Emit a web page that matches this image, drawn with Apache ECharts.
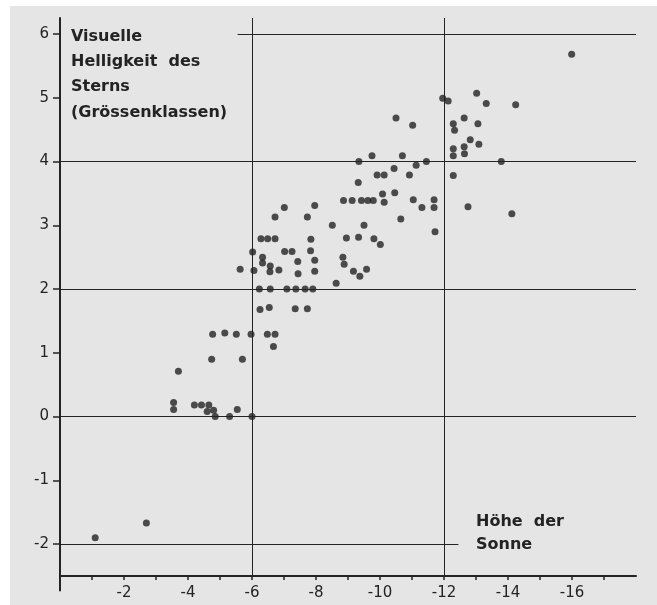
<!DOCTYPE html>
<html>
<head>
<meta charset="utf-8">
<script src="https://cdn.jsdelivr.net/npm/echarts@6/dist/echarts.min.js"></script>
<style>
html, body { margin: 0; padding: 0; background: #ffffff; }
#bg { position: absolute; left: 10px; top: 6px; width: 647px; height: 599px; background: #e5e5e5; }
#chart { position: absolute; left: 0; top: 0; width: 657px; height: 605px; }
</style>
</head>
<body>
<div id="bg"></div>
<div id="chart"></div>
<script>
// Höhe der Sonne (x) and visuelle Helligkeit (y) for each observed star
const sunAltitude = [
  -1.1, -2.7,
  -3.55, -3.55, -3.7, -4.2, -4.42, -4.65, -4.6, -4.8, -4.85, -5.3, -5.54, -6.0, -4.74, -5.7,
  -4.77, -5.15, -5.51, -5.97, -6.48, -6.72, -6.67,
  -6.25, -6.54, -7.35, -7.73,
  -6.23, -6.57, -7.09, -7.37, -7.66, -7.9, -8.63,
  -5.63, -6.06, -6.02, -6.33, -6.33, -6.57, -6.56, -6.84, -7.02, -7.25, -7.43, -7.44, -7.83, -7.96, -7.96,
  -6.28, -6.49, -6.72, -7.84,
  -6.72, -7.01, -7.73, -7.96, -8.51,
  -8.86, -9.13, -9.42, -9.62, -9.79, -9.32, -9.34, -9.75, -10.7, -11.13, -11.45, -10.44,
  -9.91, -10.13, -10.92, -10.08, -10.46, -10.13, -11.04, -11.31, -11.69, -11.69, -10.65, -11.72,
  -9.5, -8.95, -9.33, -9.81, -10.01, -8.84, -8.88, -9.17, -9.37, -9.58,
  -15.99, -13.02, -11.96, -12.13, -13.32, -14.24, -10.5, -11.02, -12.29, -12.63, -13.06,
  -12.33, -12.82, -12.63, -13.09, -12.29, -12.29, -12.64, -13.79, -12.29, -12.75, -14.12
];
const magnitude = [
  -1.9, -1.67,
  0.22, 0.11, 0.71, 0.18, 0.18, 0.18, 0.08, 0.1, 0.0, 0.0, 0.11, 0.0, 0.9, 0.9,
  1.29, 1.31, 1.29, 1.29, 1.29, 1.29, 1.1,
  1.68, 1.71, 1.69, 1.69,
  2.0, 2.0, 2.0, 2.0, 2.0, 2.0, 2.09,
  2.31, 2.29, 2.58, 2.5, 2.41, 2.36, 2.27, 2.3, 2.59, 2.59, 2.43, 2.24, 2.6, 2.45, 2.28,
  2.79, 2.79, 2.79, 2.78,
  3.13, 3.28, 3.13, 3.31, 3.0,
  3.39, 3.39, 3.39, 3.39, 3.39, 3.67, 4.0, 4.09, 4.09, 3.94, 4.0, 3.89,
  3.79, 3.79, 3.79, 3.49, 3.51, 3.36, 3.4, 3.28, 3.4, 3.28, 3.1, 2.9,
  3.0, 2.8, 2.81, 2.79, 2.7, 2.5, 2.39, 2.28, 2.2, 2.31,
  5.68, 5.07, 4.99, 4.95, 4.91, 4.89, 4.68, 4.57, 4.59, 4.68, 4.59,
  4.49, 4.34, 4.23, 4.27, 4.2, 4.09, 4.12, 4.0, 3.78, 3.29, 3.18
];

// axis ranges and ticks
const xMin = -18, xMax = 0, xAxisLeftEnd = 0.48;
const yMin = -2.5, yMax = 6.25, yAxisBottomEnd = -2.74;
const xTickValues = [-1, -2, -3, -4, -5, -6, -7, -8, -9, -10, -11, -12, -13, -14, -15, -16, -17];
const xTickLabels = [-2, -4, -6, -8, -10, -12, -14, -16];
const yTickLabels = [-2, -1, 0, 1, 2, 3, 4, 5, 6];

// reference lines: horizontal [y, xFrom, xTo], vertical [x, yFrom, yTo]
const hLines = [[-2, 0, -12.45], [0, 0, -18], [2, 0, -18], [4, 0, -18], [6, -5.55, -18]];
const vLines = [[-6, -2.5, 6.25], [-12, -2.5, 6.25]];

const ink = '#232323';
const points = sunAltitude.map((x, i) => [x, magnitude[i]]);
const lineData = [];
hLines.forEach(h => lineData.push([{ coord: [h[1], h[0]] }, { coord: [h[2], h[0]] }]));
vLines.forEach(v => lineData.push([{ coord: [v[0], v[1]] }, { coord: [v[0], v[2]] }]));

const chart = echarts.init(document.getElementById('chart'), null, { renderer: 'canvas' });
chart.setOption({
  backgroundColor: 'transparent',
  animation: false,
  title: [
    {
      text: 'Visuelle\nHelligkeit  des\nSterns\n(Grössenklassen)',
      left: 71, top: 24, padding: 0,
      textStyle: { fontFamily: 'DejaVu Sans', fontWeight: 'bold', fontSize: 16, lineHeight: 25.3, color: ink }
    },
    {
      text: 'Höhe  der\nSonne',
      left: 476, top: 510, padding: 0,
      textStyle: { fontFamily: 'DejaVu Sans', fontWeight: 'bold', fontSize: 16, lineHeight: 23, color: ink }
    }
  ],
  grid: { left: 60, right: 21, top: 18, bottom: 29, containLabel: false },
  xAxis: {
    type: 'value', min: xMin, max: xMax, inverse: true, position: 'bottom',
    axisLine: { show: true, onZero: false, lineStyle: { color: ink, width: 2 } },
    axisTick: { show: true, customValues: xTickValues, inside: false, length: 4, lineStyle: { color: ink, width: 1.5 } },
    axisLabel: { customValues: xTickLabels, fontFamily: 'DejaVu Sans', fontSize: 15, color: ink, margin: 10 },
    splitLine: { show: false }
  },
  yAxis: {
    type: 'value', min: yMin, max: yMax, position: 'left',
    axisLine: { show: true, onZero: false, lineStyle: { color: ink, width: 2 } },
    axisTick: { show: true, customValues: yTickLabels, inside: false, length: 7, lineStyle: { color: ink, width: 1.5 } },
    axisLabel: { customValues: yTickLabels, fontFamily: 'DejaVu Sans', fontSize: 15, color: ink, margin: 11 },
    splitLine: { show: false }
  },
  series: [
    {
      type: 'scatter',
      data: points,
      symbol: 'circle',
      symbolSize: 7,
      itemStyle: { color: ink },
      silent: true,
      z: 3,
      markLine: {
        silent: true, symbol: 'none', animation: false,
        label: { show: false },
        lineStyle: { color: ink, width: 1, type: 'solid' },
        data: lineData
      }
    },
    {
      type: 'line',
      data: [[0, yMin], [0, yAxisBottomEnd]],
      clip: false, symbol: 'none', silent: true,
      lineStyle: { color: ink, width: 2 }
    },
    {
      type: 'line',
      data: [[0, yMin], [xAxisLeftEnd, yMin]],
      clip: false, symbol: 'none', silent: true,
      lineStyle: { color: ink, width: 2 }
    }
  ]
});
</script>
</body>
</html>
